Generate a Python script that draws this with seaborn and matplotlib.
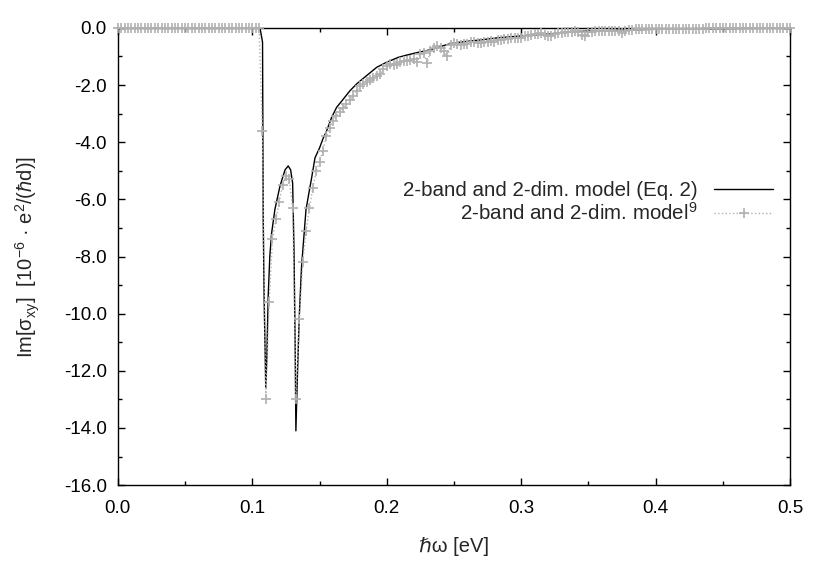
import numpy as np
import matplotlib
matplotlib.use('Agg')
import matplotlib.pyplot as plt
import seaborn as sns
from matplotlib.ticker import MultipleLocator, FormatStrFormatter

# Eq. 2 model (solid black line), energy in eV
eq2_energy = [0.0, 0.1057, 0.1076, 0.1081, 0.1088, 0.1094, 0.1100, 0.1108, 0.1118, 0.1130,
              0.1143, 0.1168, 0.1205, 0.1243, 0.1267, 0.1285, 0.1300, 0.1310, 0.1319, 0.1324,
              0.1334, 0.1349, 0.1366, 0.1399, 0.1420, 0.1441, 0.1466, 0.1500, 0.1528, 0.1553,
              0.1590, 0.1627, 0.1677, 0.1726, 0.1776, 0.1850, 0.1925, 0.2000, 0.2086, 0.2150,
              0.2220, 0.2320, 0.2400, 0.2490, 0.2600, 0.2700, 0.2820, 0.2950,
              0.3070, 0.3200, 0.3310, 0.3450, 0.3600, 0.3810, 0.4000, 0.4300, 0.4600, 0.4980,
              0.5000]
eq2_sigma = [0.0, 0.0, -0.5, -6.7, -9.5, -11.0, -12.6, -11.5, -9.4, -8.0,
             -7.2, -6.35, -5.55, -4.97, -4.83, -4.97, -5.44, -7.8, -11.3, -14.1,
             -12.4, -10.1, -8.36, -6.37, -5.8, -5.25, -4.55, -4.2, -3.85, -3.6,
             -3.13, -2.78, -2.49, -2.2, -1.96, -1.67, -1.38, -1.2, -1.03, -0.95,
             -0.87, -0.77, -0.65, -0.53, -0.47, -0.42, -0.35, -0.3,
             -0.25, -0.22, -0.16, -0.12, -0.1, -0.07, -0.05, -0.03, -0.02, -0.01,
             -0.01]

# reference model (gray crosses), sampled every 0.0025 eV from 0
ref_step = 0.0025
ref_sigma = [0.0] * 43 + [
    -3.6, -13.0, -9.6, -7.4, -6.7, -6.1, -5.5, -5.2, -5.3, -6.3,
    -13.0, -10.2, -8.2, -7.1, -6.3, -5.6, -5.0, -4.7, -4.3, -3.8,
    -3.5, -3.25, -3.08, -2.93, -2.8, -2.65, -2.52, -2.38, -2.2, -2.05,
    -1.95, -1.88, -1.82, -1.76, -1.7, -1.62, -1.44, -1.35, -1.25, -1.3,
    -1.28, -1.2, -1.16, -1.15, -1.12, -1.1, -1.18, -0.9, -0.88, -1.22,
    -0.82, -0.7, -0.65, -0.72, -0.82, -1.0, -0.6, -0.52, -0.55, -0.6,
    -0.58, -0.55, -0.5, -0.51, -0.52, -0.53, -0.5, -0.48, -0.47, -0.48,
    -0.44, -0.42, -0.4, -0.38, -0.37, -0.36, -0.37, -0.36, -0.3, -0.27,
    -0.25, -0.22, -0.2, -0.19, -0.24, -0.3, -0.28, -0.22, -0.19, -0.17,
    -0.15, -0.13, -0.13, -0.12, -0.15, -0.25, -0.3, -0.15, -0.13, -0.12,
    -0.11, -0.11, -0.11, -0.1, -0.1, -0.1, -0.1, -0.19, -0.12, -0.07,
    -0.06, -0.05, -0.05, -0.05, -0.05, -0.04, -0.04, -0.04,
    -0.04, -0.04, -0.035, -0.035, -0.03, -0.03, -0.03, -0.03, -0.03, -0.03,
    -0.03, -0.03, -0.025, -0.025, -0.02, -0.02, -0.02, -0.02, -0.02, -0.02,
    -0.02, -0.015, -0.015, -0.01, -0.01, -0.01, -0.01, -0.01, -0.005, -0.005,
    0.0, 0.0, 0.0, 0.0, 0.0, 0.0, 0.0, 0.0, 0.0, 0.0]
ref_energy = np.arange(len(ref_sigma)) * ref_step

sns.set_style('ticks')
plt.rcParams['font.family'] = ['Liberation Sans', 'DejaVu Sans']
plt.rcParams['mathtext.fontset'] = 'custom'
plt.rcParams['mathtext.rm'] = 'Liberation Sans'
plt.rcParams['mathtext.it'] = 'Liberation Sans:italic'
plt.rcParams['axes.unicode_minus'] = False

gray = '#b0b0b0'

fig, ax = plt.subplots(figsize=(8.3, 5.81), dpi=100)
fig.subplots_adjust(left=0.142, right=0.952, top=0.952, bottom=0.165)

sns.lineplot(x=eq2_energy, y=eq2_sigma, ax=ax, color='black', linewidth=1.0,
             estimator=None, sort=False, label='2-band and 2-dim. model (Eq. 2)')
sns.lineplot(x=ref_energy, y=ref_sigma, ax=ax, color=gray, linewidth=1.0,
             linestyle=':', marker='+', markersize=7, markeredgewidth=1.2,
             markeredgecolor=gray, markerfacecolor=gray,
             estimator=None, sort=False, label='2-band and 2-dim. model$^{9}$',
             clip_on=False, zorder=5)

ax.set_xlim(0.0, 0.5)
ax.set_ylim(-16.0, 0.0)
ax.xaxis.set_major_locator(MultipleLocator(0.1))
ax.xaxis.set_minor_locator(MultipleLocator(0.05))
ax.yaxis.set_major_locator(MultipleLocator(2.0))
ax.yaxis.set_minor_locator(MultipleLocator(1.0))
ax.xaxis.set_major_formatter(FormatStrFormatter('%.1f'))
ax.yaxis.set_major_formatter(FormatStrFormatter('%.1f'))
ax.tick_params(which='both', direction='in', top=True, right=True,
               labelsize=13.5, width=1.0, colors='black')
ax.tick_params(which='major', length=5)
ax.tick_params(axis='x', which='major', pad=11)
ax.tick_params(axis='y', which='major', pad=8)
ax.tick_params(which='minor', length=3)
for sp in ax.spines.values():
    sp.set_linewidth(1.0)
    sp.set_color('black')

ax.set_xlabel('ℏω [eV]', fontsize=14.5, labelpad=14)
ax.set_ylabel('Im[σ$_{\\mathregular{xy}}$]  [10$^{\\mathregular{-6}}$ · e$^{\\mathregular{2}}$/($\\hbar$d)]',
              fontsize=14.5, labelpad=16)

ax.legend(loc='upper right', bbox_to_anchor=(0.975, 0.665), frameon=False,
          markerfirst=False, fontsize=14.8, handlelength=2.9, handletextpad=0.8,
          labelspacing=0.1, borderpad=0, borderaxespad=0)

plt.savefig('out.png', dpi=100)
